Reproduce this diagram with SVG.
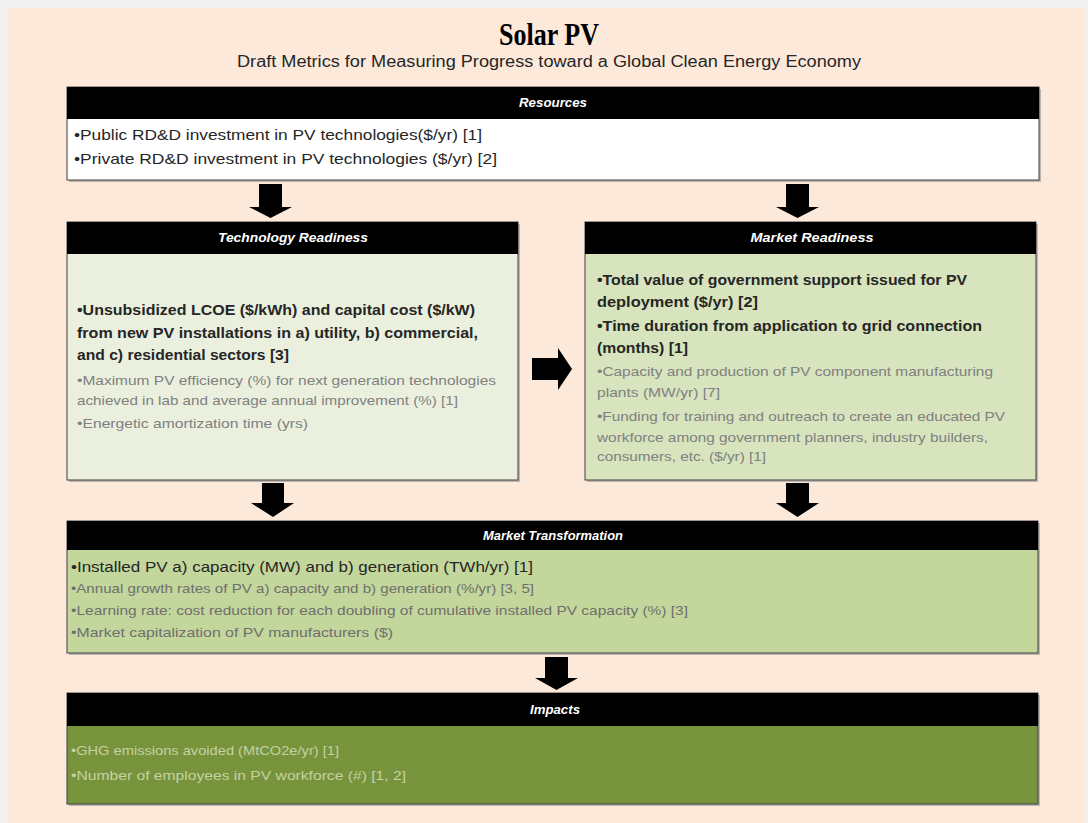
<svg xmlns="http://www.w3.org/2000/svg" width="1088" height="823" viewBox="0 0 1088 823">
<defs>
<style>
.shadow{fill:#a0a0a0;opacity:0.7}
.box{stroke:#404040;stroke-width:1}
.hdr{fill:#000}
.ht{font-family:"Liberation Sans",Arial,sans-serif;font-size:12.5px;font-weight:bold;font-style:italic;fill:#fff;text-anchor:middle}
.b{font-family:"Liberation Sans",Arial,sans-serif;font-size:15px;font-weight:bold;fill:#262626}
.n{font-family:"Liberation Sans",Arial,sans-serif;font-size:14.5px;fill:#262626}
.g{font-family:"Liberation Sans",Arial,sans-serif;font-size:13px;fill:#808080}
.gi{font-family:"Liberation Sans",Arial,sans-serif;font-size:13px;fill:#C4D2A2}
.arrow{fill:#000}
</style>
</defs>
<rect x="0" y="0" width="1088" height="823" fill="#f0f0f0"/>
<rect x="7" y="8" width="1078" height="815" fill="#FDE9DA"/>
<g id="title">
<text x="549" y="45" text-anchor="middle" font-family="'Liberation Serif',serif" font-size="31" font-weight="bold" fill="#000" textLength="100" lengthAdjust="spacingAndGlyphs">Solar PV</text>
<text x="549" y="67" text-anchor="middle" font-family="'Liberation Sans',Arial,sans-serif" font-size="16" fill="#262626" textLength="624" lengthAdjust="spacingAndGlyphs">Draft Metrics for Measuring Progress toward a Global Clean Energy Economy</text>
</g>
<g id="resources">
<rect class="shadow" x="69" y="89" width="972" height="93"/>
<rect class="box" x="67" y="87" width="972" height="93" fill="#fff"/>
<rect class="hdr" x="67" y="87" width="972" height="32"/>
<text class="ht" x="553" y="107" textLength="68" lengthAdjust="spacingAndGlyphs">Resources</text>
<text class="n" x="74" y="140" textLength="408" lengthAdjust="spacingAndGlyphs">•Public RD&amp;D investment in PV technologies($/yr) [1]</text>
<text class="n" x="74" y="164" textLength="423" lengthAdjust="spacingAndGlyphs">•Private RD&amp;D investment in PV technologies ($/yr) [2]</text>
</g>
<g id="technology-readiness">
<rect class="shadow" x="69" y="224" width="451" height="258"/>
<rect class="box" x="67" y="222" width="451" height="258" fill="#EBF0DE"/>
<rect class="hdr" x="67" y="222" width="451" height="32"/>
<text class="ht" x="293" y="242" textLength="150" lengthAdjust="spacingAndGlyphs">Technology Readiness</text>
<text class="b" x="77" y="315" textLength="398" lengthAdjust="spacingAndGlyphs">•Unsubsidized LCOE ($/kWh) and capital cost ($/kW)</text>
<text class="b" x="77" y="338" textLength="401" lengthAdjust="spacingAndGlyphs">from new PV installations in a) utility, b) commercial,</text>
<text class="b" x="77" y="360" textLength="212" lengthAdjust="spacingAndGlyphs">and c) residential sectors [3]</text>
<text class="g" x="77" y="385" textLength="419" lengthAdjust="spacingAndGlyphs">•Maximum PV efficiency (%) for next generation technologies</text>
<text class="g" x="77" y="405" textLength="381" lengthAdjust="spacingAndGlyphs">achieved in lab and average annual improvement (%) [1]</text>
<text class="g" x="77" y="428" textLength="231" lengthAdjust="spacingAndGlyphs">•Energetic amortization time (yrs)</text>
</g>
<g id="market-readiness">
<rect class="shadow" x="587" y="224" width="451" height="258"/>
<rect class="box" x="585" y="222" width="451" height="258" fill="#D7E4BD"/>
<rect class="hdr" x="585" y="222" width="451" height="32"/>
<text class="ht" x="812" y="242" textLength="123" lengthAdjust="spacingAndGlyphs">Market Readiness</text>
<text class="b" x="597" y="285" textLength="370" lengthAdjust="spacingAndGlyphs">•Total value of government support issued for PV</text>
<text class="b" x="597" y="307" textLength="161" lengthAdjust="spacingAndGlyphs">deployment ($/yr) [2]</text>
<text class="b" x="597" y="331" textLength="385" lengthAdjust="spacingAndGlyphs">•Time duration from application to grid connection</text>
<text class="b" x="597" y="353" textLength="91" lengthAdjust="spacingAndGlyphs">(months) [1]</text>
<text class="g" x="597" y="376" textLength="396" lengthAdjust="spacingAndGlyphs">•Capacity and production of PV component manufacturing</text>
<text class="g" x="597" y="397" textLength="123" lengthAdjust="spacingAndGlyphs">plants (MW/yr) [7]</text>
<text class="g" x="597" y="421" textLength="408" lengthAdjust="spacingAndGlyphs">•Funding for training and outreach to create an educated PV</text>
<text class="g" x="597" y="442" textLength="391" lengthAdjust="spacingAndGlyphs">workforce among government planners, industry builders,</text>
<text class="g" x="597" y="461" textLength="169" lengthAdjust="spacingAndGlyphs">consumers, etc. ($/yr) [1]</text>
</g>
<g id="market-transformation">
<rect class="shadow" x="69" y="523" width="971" height="132"/>
<rect class="box" x="67" y="521" width="971" height="132" fill="#C3D69B"/>
<rect class="hdr" x="67" y="521" width="971" height="29"/>
<text class="ht" x="553" y="540" textLength="140" lengthAdjust="spacingAndGlyphs">Market Transformation</text>
<text class="n" x="71" y="572" textLength="462" lengthAdjust="spacingAndGlyphs">•Installed PV a) capacity (MW) and b) generation (TWh/yr) [1]</text>
<text class="g" x="71" y="593" textLength="463" lengthAdjust="spacingAndGlyphs" fill="#6f6f6f" style="fill:#6f6f6f">•Annual growth rates of PV a) capacity and b) generation (%/yr) [3, 5]</text>
<text class="g" x="71" y="615" textLength="617" lengthAdjust="spacingAndGlyphs" style="fill:#6f6f6f">•Learning rate: cost reduction for each doubling of cumulative installed PV capacity (%) [3]</text>
<text class="g" x="71" y="637" textLength="322" lengthAdjust="spacingAndGlyphs" style="fill:#6f6f6f">•Market capitalization of PV manufacturers ($)</text>
</g>
<g id="impacts">
<rect class="shadow" x="69" y="695" width="971" height="111"/>
<rect class="box" x="67" y="693" width="971" height="111" fill="#77933C"/>
<rect class="hdr" x="67" y="693" width="971" height="33"/>
<text class="ht" x="555" y="714" textLength="50" lengthAdjust="spacingAndGlyphs">Impacts</text>
<text class="gi" x="71" y="755" textLength="268" lengthAdjust="spacingAndGlyphs">•GHG emissions avoided (MtCO2e/yr) [1]</text>
<text class="gi" x="71" y="780" textLength="335" lengthAdjust="spacingAndGlyphs">•Number of employees in PV workforce (#) [1, 2]</text>
</g>
<g id="connectors">
<polygon class="arrow" points="259,184 282,184 282,207 292,207 270.5,218 249,207 259,207"/>
<polygon class="arrow" points="786,184 809,184 809,207 819,207 797.5,218 776,207 786,207"/>
<polygon class="arrow" points="262,483 284,483 284,503 294,503 273,517 251,503 262,503"/>
<polygon class="arrow" points="786,483 809,483 809,503 819,503 797.5,517 776,503 786,503"/>
<polygon class="arrow" points="545,657 568,657 568,678 578,678 556.5,690 535,678 545,678"/>
<polygon class="arrow" points="532,358 558,358 558,348 572,369 558,390 558,380 532,380"/>
</g>
</svg>
